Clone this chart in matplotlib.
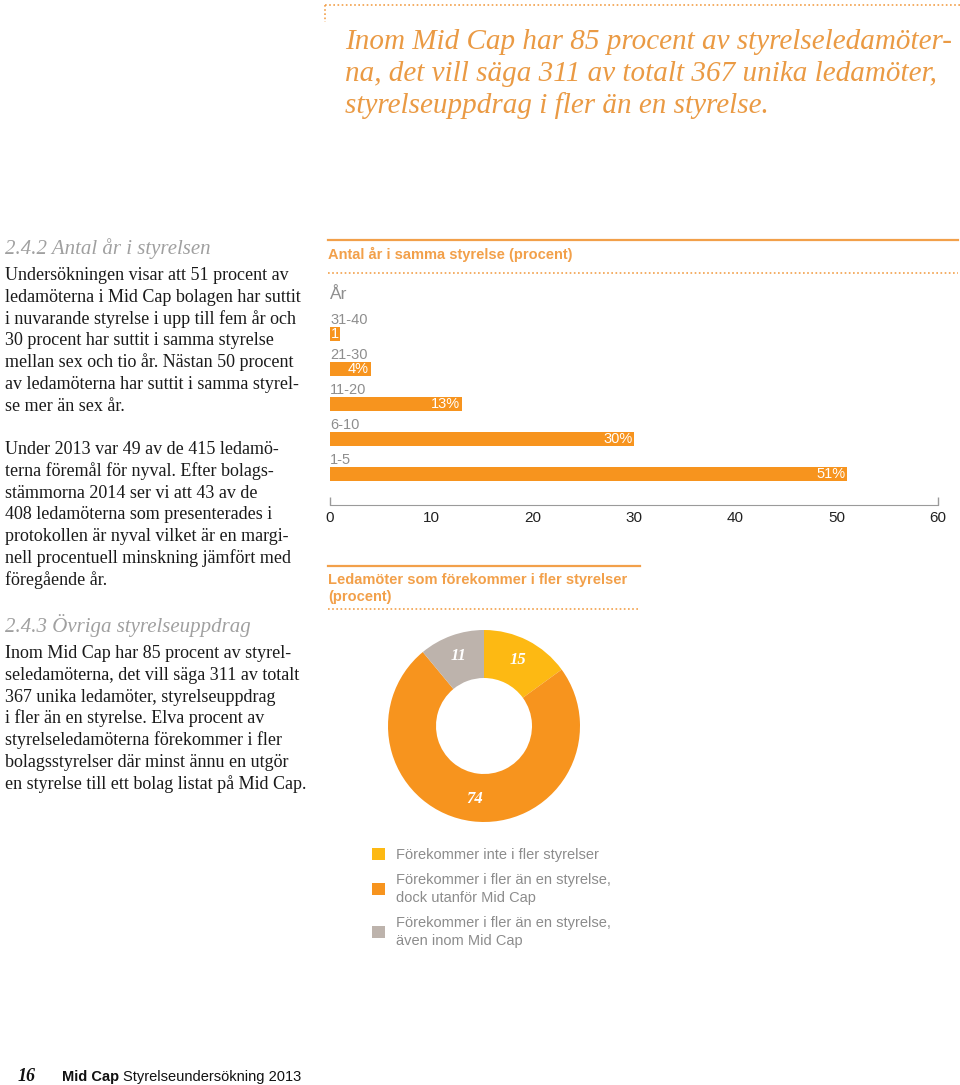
import numpy as np
import matplotlib.pyplot as plt
from matplotlib.lines import Line2D

W, H = 960, 1085

# bar chart: years on the same board (percent)
year_groups = ["1-5", "6-10", "11-20", "21-30", "31-40"]
year_share = [51, 30, 13, 4, 1]
year_labels = ["51%", "30%", "13%", "4%", "1"]
x_ticks = [0, 10, 20, 30, 40, 50, 60]

# donut: board members on several boards (percent)
board_groups = ["Förekommer inte i fler styrelser",
                "Förekommer i fler än en styrelse,\ndock utanför Mid Cap",
                "Förekommer i fler än en styrelse,\näven inom Mid Cap"]
board_share = [15, 74, 11]

quote_lines = ["Inom Mid Cap har 85 procent av styrelseledamöter-",
               "na, det vill säga 311 av totalt 367 unika ledamöter,",
               "styrelseuppdrag i fler än en styrelse."]
para1 = ["Undersökningen visar att 51 procent av",
         "ledamöterna i Mid Cap bolagen har suttit",
         "i nuvarande styrelse i upp till fem år och",
         "30 procent har suttit i samma styrelse",
         "mellan sex och tio år. Nästan 50 procent",
         "av ledamöterna har suttit i samma styrel-",
         "se mer än sex år."]
para2 = ["Under 2013 var 49 av de 415 ledamö-",
         "terna föremål för nyval. Efter bolags-",
         "stämmorna 2014 ser vi att 43 av de",
         "408 ledamöterna som presenterades i",
         "protokollen är nyval vilket är en margi-",
         "nell procentuell minskning jämfört med",
         "föregående år."]
para3 = ["Inom Mid Cap har 85 procent av styrel-",
         "seledamöterna, det vill säga 311 av totalt",
         "367 unika ledamöter, styrelseuppdrag",
         "i fler än en styrelse. Elva procent av",
         "styrelseledamöterna förekommer i fler",
         "bolagsstyrelser där minst ännu en utgör",
         "en styrelse till ett bolag listat på Mid Cap."]

ORANGE = "#F7941E"
YELLOW = "#FDB913"
GREY = "#BDB3AC"
HEAD = "#F2A04A"
QUOTE = "#EA9A44"
SERIF = "Liberation Serif"
SANS = "Liberation Sans"

fig = plt.figure(figsize=(W / 100, H / 100), dpi=100)


def fx(px):
    return px / W


def fy(py):
    return 1 - py / H


def hline(x0, x1, y, **kw):
    fig.add_artist(Line2D([fx(x0), fx(x1)], [fy(y), fy(y)],
                          transform=fig.transFigure, **kw))


def lines_at(x, y0, lines, pitch, **kw):
    for i, s in enumerate(lines):
        fig.text(fx(x), fy(y0 + i * pitch), s, va="baseline", ha="left", **kw)


dotted = dict(color=HEAD, lw=1.2, linestyle=(0, (1, 1.5)))

# quote box
hline(325, 960, 5, **dotted)
fig.add_artist(Line2D([fx(325), fx(325)], [fy(5), fy(22)],
                      transform=fig.transFigure, **dotted))
lines_at(345, 49, quote_lines, 32, family=SERIF, style="italic",
         fontsize=21, color=QUOTE)

# left text column
fig.text(fx(5), fy(254), "2.4.2 Antal år i styrelsen", family=SERIF,
         style="italic", fontsize=15, color="#A0A0A0", va="baseline")
lines_at(5, 280, para1, 21.8, family=SERIF, fontsize=13, color="#1A1A1A")
lines_at(5, 454, para2, 21.8, family=SERIF, fontsize=13, color="#1A1A1A")
fig.text(fx(5), fy(632), "2.4.3 Övriga styrelseuppdrag", family=SERIF,
         style="italic", fontsize=15, color="#A0A0A0", va="baseline")
lines_at(5, 658, para3, 21.8, family=SERIF, fontsize=13, color="#1A1A1A")

# bar chart header
hline(328, 958, 240, color=HEAD, lw=1.6)
fig.text(fx(328), fy(254), "Antal år i samma styrelse (procent)", family=SANS,
         weight="bold", fontsize=10.5, color=HEAD, va="center")
hline(328, 958, 273, **dotted)

ax = fig.add_axes([fx(330), fy(530), 608 / W, 250 / H])
y_pos = np.arange(len(year_groups))
ax.barh(y_pos, year_share, height=0.4, color=ORANGE)
for y, v, lab, grp in zip(y_pos, year_share, year_labels, year_groups):
    ax.text(v - 0.15, y, lab, ha="right", va="center", color="white",
            fontsize=10.5, family=SANS)
    ax.text(0, y + 0.41, grp, ha="left", va="center", color="#8E8E8E",
            fontsize=10.5, family=SANS)
ax.text(0, 5.14, "År", ha="left", va="center", color="#8E8E8E",
        fontsize=12.5, family=SANS)

base = -0.886
ax.set_xlim(x_ticks[0], x_ticks[-1])
ax.set_ylim(-1.6, 5.543)
for s in ["top", "right", "left"]:
    ax.spines[s].set_visible(False)
ax.spines["bottom"].set_position(("data", base))
ax.spines["bottom"].set_color("#9A9A9A")
ax.vlines([x_ticks[0], x_ticks[-1]], base, base + 0.23, color="#9A9A9A",
          lw=1, clip_on=False)
ax.set_yticks([])
ax.set_xticks(x_ticks)
ax.tick_params(axis="x", length=0, pad=4.5, labelsize=11, labelcolor="#222222")
for t in ax.get_xticklabels():
    t.set_family(SANS)
ax.patch.set_alpha(0)

# donut header
hline(328, 640, 566, color=HEAD, lw=1.6)
fig.text(fx(328), fy(580), "Ledamöter som förekommer i fler styrelser",
         family=SANS, weight="bold", fontsize=10.5, color=HEAD, va="center")
fig.text(fx(328), fy(597), "(procent)", family=SANS, weight="bold",
         fontsize=10.5, color=HEAD, va="center")
hline(328, 640, 609, **dotted)

ax2 = fig.add_axes([fx(388), fy(822), 192 / W, 192 / H])
wedges, _, autotexts = ax2.pie(
    board_share, colors=[YELLOW, ORANGE, GREY], startangle=90,
    counterclock=False, autopct="%.0f", pctdistance=0.77,
    wedgeprops=dict(width=0.5, edgecolor="none"),
    textprops=dict(color="white", family=SERIF, style="italic",
                   weight="bold", fontsize=12))
ax2.set_xlim(-1, 1)
ax2.set_ylim(-1, 1)

leg = fig.legend(wedges, board_groups, loc="upper left",
                 bbox_to_anchor=(fx(372), fy(848)), frameon=False,
                 labelcolor="#8C8C8C", prop=dict(family=SANS, size=10.5),
                 handlelength=0.9, handleheight=0.9, handletextpad=0.75,
                 labelspacing=0.75, borderpad=0, borderaxespad=0)
for t in leg.get_texts():
    t.set_linespacing(1.35)

# footer
fig.text(fx(18), fy(1081), "16", family=SERIF, style="italic", weight="bold",
         fontsize=13, color="#111111", va="baseline")
t = fig.text(fx(62), fy(1081), "Mid Cap", family=SANS, weight="bold",
             fontsize=10.5, color="#111111", va="baseline")
r = fig.canvas.get_renderer()
bb = t.get_window_extent(r)
fig.text(fx(bb.x1 + 4), fy(1081), "Styrelseundersökning 2013", family=SANS,
         fontsize=10.5, color="#111111", va="baseline")

fig.savefig("out.png", dpi=100)
